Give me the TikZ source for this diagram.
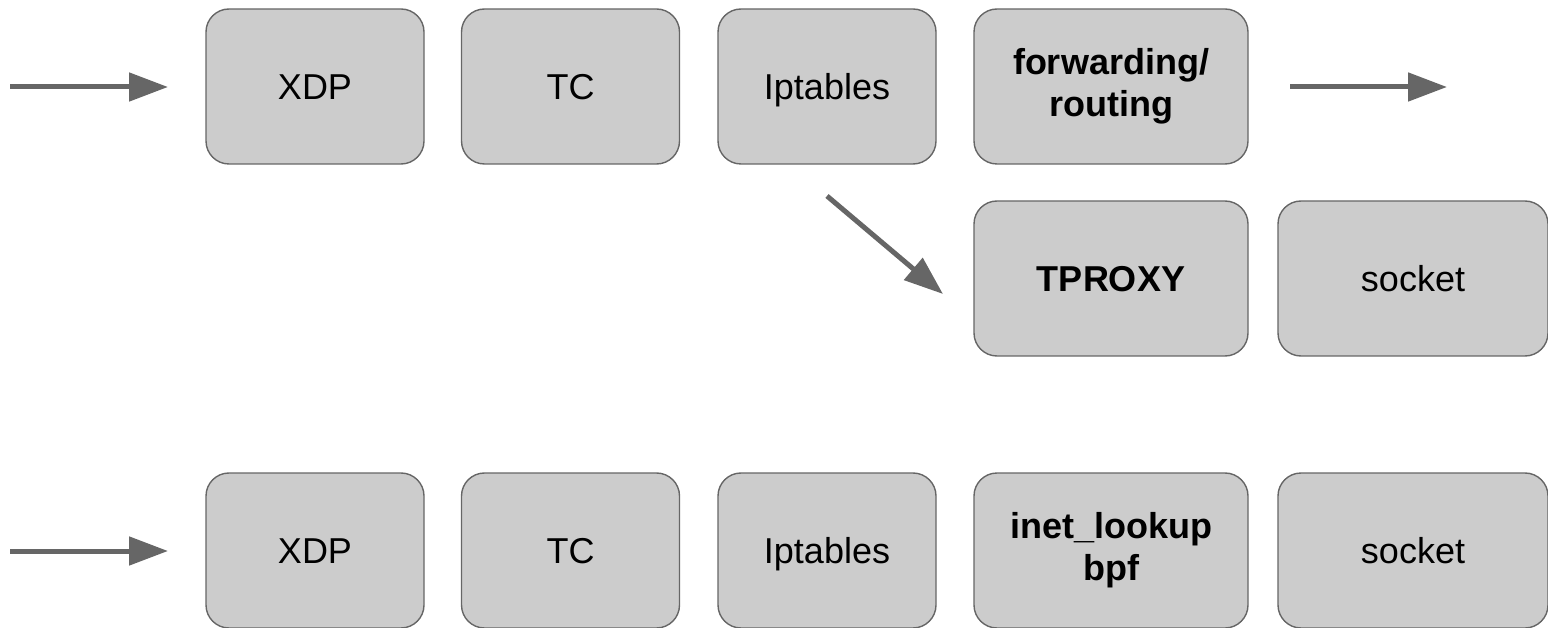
\documentclass[tikz,border=0pt]{standalone}
\usepackage{fontspec}
\setmainfont{Liberation Sans}
\usetikzlibrary{arrows.meta}
\definecolor{boxfill}{HTML}{CCCCCC}
\definecolor{edge}{HTML}{666666}
\begin{document}
\begin{tikzpicture}[x=1pt,y=-1pt,
  stage/.style={draw=edge, line width=1.4pt, fill=boxfill, rounded corners=23pt,
    minimum width=218pt, minimum height=155pt, inner sep=0pt,
    font=\fontsize{36}{42}\selectfont},
  wide/.style={minimum width=274pt},
  oneline/.style={text height=26pt, text depth=0pt},
  twoline/.style={align=center, font=\fontsize{36}{42}\selectfont\bfseries},
  flow/.style={draw=edge, line width=5pt, -{Triangle[length=39pt,width=28pt]}}]
  \useasboundingbox (0,0) rectangle (1548,628);

  % kernel path with TPROXY
  \node[stage, oneline] (xdp1) at (315,86.5) {XDP};
  \node[stage, oneline] (tc1) at (570.5,86.5) {TC};
  \node[stage, oneline] (ipt1) at (827,86.5) {Iptables};
  \node[stage, wide, twoline] (fwd) at (1111,86.5) {forwarding/\\routing};
  \node[stage, wide, oneline, font=\fontsize{36}{42}\selectfont\bfseries] (tproxy) at (1111,278.5) {TPROXY};
  \node[stage, minimum width=270pt, oneline] (sock1) at (1413,278.5) {socket};

  % kernel path with sk_lookup bpf
  \node[stage, oneline] (xdp2) at (315,550.5) {XDP};
  \node[stage, oneline] (tc2) at (570.5,550.5) {TC};
  \node[stage, oneline] (ipt2) at (827,550.5) {Iptables};
  \node[stage, wide, twoline] (lookup) at (1111,550.5) {inet\_lookup\\bpf};
  \node[stage, minimum width=270pt, oneline] (sock2) at (1413,550.5) {socket};

  % arrow ends
  \coordinate (in1s) at (10,87);
  \coordinate (in1e) at (168,87);
  \coordinate (out1s) at (1290,87);
  \coordinate (out1e) at (1447,87);
  \coordinate (diags) at (827,196);
  \coordinate (diage) at (943,294);
  \coordinate (in2s) at (10,551);
  \coordinate (in2e) at (168,551);

  \draw[flow] (in1s) -- (in1e);
  \draw[flow] (out1s) -- (out1e);
  \draw[flow] (diags) -- (diage);
  \draw[flow] (in2s) -- (in2e);
\end{tikzpicture}
\end{document}
